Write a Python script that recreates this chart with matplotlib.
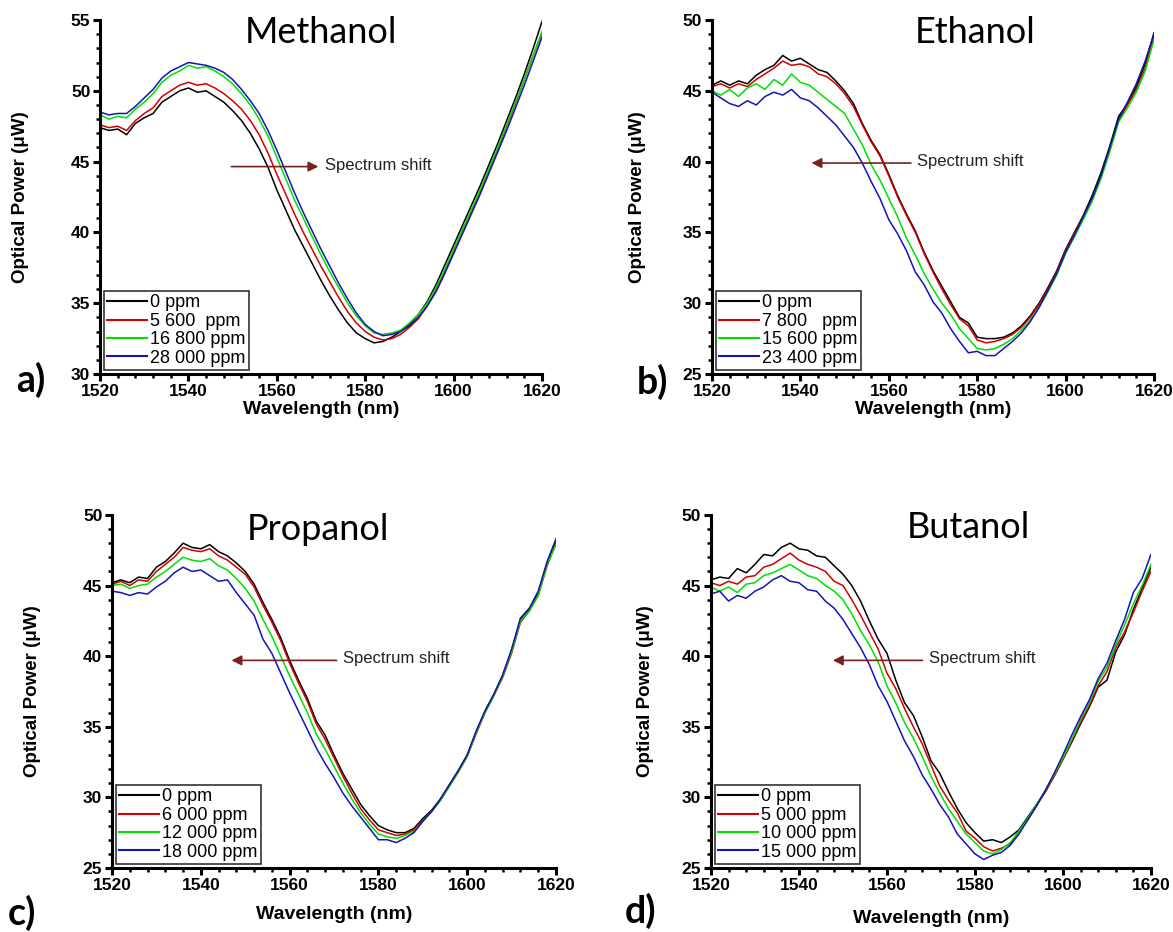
import numpy as np
import matplotlib
matplotlib.use("Agg")
import matplotlib.pyplot as plt
from matplotlib.ticker import MultipleLocator

# wavelength grid shared by all spectra (nm)
wl = np.arange(1520, 1621, 2)

# ---- a) Methanol ----
meoh_labels = ["0 ppm", "5 600  ppm", "16 800 ppm", "28 000 ppm"]
meoh_0 = [47.4, 47.2, 47.3, 46.9, 47.7, 48.1, 48.4, 49.2, 49.6, 50.0, 50.2, 49.9, 50.0, 49.6, 49.2,
          48.6, 47.9, 47.0, 45.9, 44.6, 43.0, 41.6, 40.2, 39.0, 37.8, 36.6, 35.5, 34.5, 33.6, 32.9,
          32.5, 32.2, 32.3, 32.6, 33.0, 33.5, 34.2, 35.1, 36.3, 37.7, 39.1, 40.5, 41.9, 43.3, 44.8,
          46.3, 47.9, 49.5, 51.2, 53.0, 54.9]
meoh_1 = [47.6, 47.4, 47.5, 47.2, 47.9, 48.4, 48.8, 49.6, 50.0, 50.4, 50.6, 50.4, 50.5, 50.2, 49.8,
          49.3, 48.7, 47.9, 46.9, 45.6, 44.1, 42.7, 41.3, 40.0, 38.8, 37.6, 36.5, 35.4, 34.4, 33.6,
          33.0, 32.6, 32.4, 32.5, 32.8, 33.3, 33.9, 34.8, 35.9, 37.2, 38.7, 40.1, 41.5, 42.9, 44.4,
          45.9, 47.5, 49.1, 50.8, 52.5, 54.1]
meoh_2 = [48.3, 48.0, 48.2, 48.1, 48.7, 49.2, 49.8, 50.6, 51.1, 51.4, 51.8, 51.6, 51.7, 51.4, 51.0,
          50.5, 49.8, 49.0, 48.0, 46.8, 45.3, 43.8, 42.3, 41.0, 39.7, 38.4, 37.2, 36.1, 35.0, 34.1,
          33.4, 32.9, 32.8, 32.9, 33.1, 33.6, 34.2, 35.0, 36.1, 37.4, 38.8, 40.2, 41.6, 43.0, 44.5,
          46.0, 47.6, 49.2, 50.8, 52.5, 54.2]
meoh_3 = [48.5, 48.3, 48.4, 48.4, 48.9, 49.5, 50.1, 50.9, 51.4, 51.7, 52.0, 51.9, 51.8, 51.6, 51.3,
          50.8, 50.1, 49.3, 48.4, 47.2, 45.8, 44.3, 42.8, 41.4, 40.1, 38.8, 37.6, 36.4, 35.3, 34.3,
          33.5, 33.0, 32.7, 32.8, 33.0, 33.4, 34.0, 34.8, 35.8, 37.1, 38.5, 39.9, 41.3, 42.7, 44.2,
          45.7, 47.2, 48.8, 50.4, 52.1, 53.8]

# ---- b) Ethanol ----
etoh_labels = ["0 ppm", "7 800   ppm", "15 600 ppm", "23 400 ppm"]
etoh_0 = [45.4, 45.7, 45.4, 45.7, 45.5, 46.1, 46.5, 46.8, 47.5, 47.1, 47.3, 46.9, 46.5, 46.3, 45.7,
          45.0, 44.1, 42.7, 41.5, 40.5, 39.1, 37.6, 36.3, 35.1, 33.6, 32.3, 31.2, 30.1, 29.0, 28.6,
          27.6, 27.5, 27.5, 27.6, 27.9, 28.4, 29.1, 30.0, 31.1, 32.3, 33.8, 35.0, 36.2, 37.6, 39.2,
          41.1, 43.2, 44.1, 45.3, 46.9, 49.1]
etoh_1 = [45.3, 45.5, 45.2, 45.5, 45.3, 45.8, 46.2, 46.6, 47.1, 46.8, 46.9, 46.7, 46.2, 46.0, 45.5,
          44.8, 43.9, 42.6, 41.4, 40.4, 39.0, 37.5, 36.2, 35.0, 33.5, 32.2, 31.0, 29.9, 28.9, 28.4,
          27.4, 27.2, 27.3, 27.5, 27.8, 28.3, 29.0, 29.9, 31.0, 32.2, 33.7, 34.9, 36.1, 37.4, 38.9,
          40.8, 42.9, 44.0, 45.1, 46.6, 48.9]
etoh_2 = [45.0, 44.7, 45.1, 44.6, 45.2, 45.5, 45.1, 45.8, 45.4, 46.2, 45.6, 45.4, 44.9, 44.4, 43.9,
          43.4, 42.3, 41.2, 39.8, 38.7, 37.4, 36.1, 34.6, 33.4, 32.1, 31.0, 30.0, 29.2, 28.2, 27.5,
          26.8, 26.7, 26.8, 27.1, 27.5, 28.1, 28.8, 29.7, 30.8, 32.0, 33.5, 34.7, 35.9, 37.2, 38.8,
          40.7, 42.8, 43.8, 44.9, 46.4, 48.6]
etoh_3 = [44.9, 44.5, 44.1, 43.9, 44.3, 44.0, 44.6, 44.9, 44.7, 45.1, 44.5, 44.3, 43.8, 43.2, 42.6,
          41.8, 41.0, 39.9, 38.6, 37.4, 35.9, 34.9, 33.7, 32.2, 31.3, 30.1, 29.3, 28.2, 27.3, 26.5,
          26.6, 26.3, 26.3, 26.8, 27.3, 27.9, 28.7, 29.7, 30.9, 32.1, 33.6, 34.8, 36.1, 37.4, 39.0,
          41.0, 43.0, 44.2, 45.5, 47.1, 49.0]

# ---- c) Propanol ----
prop_labels = ["0 ppm", "6 000 ppm", "12 000 ppm", "18 000 ppm"]
prop_0 = [45.2, 45.4, 45.2, 45.6, 45.5, 46.3, 46.7, 47.3, 48.0, 47.7, 47.6, 47.9, 47.4, 47.1, 46.6,
          46.0, 45.1, 43.8, 42.6, 41.3, 39.7, 38.3, 37.0, 35.4, 34.4, 33.0, 31.7, 30.6, 29.5, 28.7,
          28.0, 27.7, 27.5, 27.5, 27.8, 28.5, 29.1, 29.9, 30.9, 31.9, 33.0, 34.6, 36.1, 37.3, 38.6,
          40.4, 42.6, 43.3, 44.5, 46.6, 48.2]
prop_1 = [45.1, 45.3, 45.0, 45.4, 45.3, 46.0, 46.5, 47.0, 47.7, 47.5, 47.4, 47.6, 47.1, 46.8, 46.3,
          45.8, 44.9, 43.6, 42.4, 41.1, 39.5, 38.1, 36.8, 35.2, 34.1, 32.8, 31.5, 30.3, 29.2, 28.4,
          27.7, 27.5, 27.3, 27.4, 27.7, 28.4, 29.0, 29.8, 30.8, 31.8, 32.9, 34.5, 36.0, 37.2, 38.5,
          40.2, 42.4, 43.2, 44.3, 46.4, 48.0]
prop_2 = [45.0, 45.1, 44.8, 45.0, 45.1, 45.6, 46.0, 46.5, 47.0, 46.8, 46.7, 46.9, 46.4, 46.1, 45.5,
          44.8, 43.9, 42.6, 41.4, 40.0, 38.6, 37.3, 36.0, 34.5, 33.4, 32.2, 31.0, 29.9, 28.9, 28.1,
          27.4, 27.2, 27.1, 27.3, 27.6, 28.3, 29.0, 29.8, 30.8, 31.8, 32.9, 34.6, 36.0, 37.2, 38.6,
          40.3, 42.5, 43.2, 44.3, 46.5, 47.9]
prop_3 = [44.6, 44.5, 44.3, 44.5, 44.4, 44.9, 45.3, 45.9, 46.3, 46.0, 46.1, 45.7, 45.3, 45.4, 44.5,
          43.7, 42.9, 41.2, 40.2, 38.8, 37.4, 36.1, 34.8, 33.5, 32.4, 31.4, 30.3, 29.4, 28.6, 27.8,
          27.0, 27.0, 26.8, 27.1, 27.5, 28.3, 29.0, 29.9, 30.9, 31.9, 33.0, 34.7, 36.1, 37.3, 38.7,
          40.5, 42.7, 43.4, 44.6, 46.7, 48.3]

# ---- d) Butanol ----
but_labels = ["0 ppm", "5 000 ppm", "10 000 ppm", "15 000 ppm"]
but_0 = [45.4, 45.6, 45.5, 46.2, 45.9, 46.5, 47.2, 47.1, 47.7, 48.0, 47.6, 47.5, 47.1, 47.0, 46.4,
         45.8, 45.0, 43.9, 42.5, 41.2, 40.2, 38.3, 36.7, 35.8, 34.3, 32.6, 31.7, 30.4, 29.2, 28.2,
         27.5, 26.9, 27.0, 26.8, 27.2, 27.7, 28.6, 29.5, 30.4, 31.5, 32.7, 33.9, 35.2, 36.4, 37.8,
         38.3, 40.3, 41.5, 43.3, 44.8, 46.3]
but_1 = [45.2, 45.0, 45.3, 45.1, 45.6, 45.7, 46.3, 46.5, 46.9, 47.3, 46.8, 46.5, 46.3, 46.0, 45.3,
         45.0, 44.0, 42.9, 41.7, 40.5, 38.8, 37.7, 36.3, 35.0, 33.8, 32.3, 30.8, 29.8, 28.9, 27.6,
         27.1, 26.5, 26.2, 26.4, 26.7, 27.6, 28.4, 29.4, 30.4, 31.5, 32.7, 34.0, 35.3, 36.5, 37.9,
         38.9, 40.6, 41.7, 43.1, 44.6, 46.0]
but_2 = [44.9, 44.6, 44.9, 44.5, 45.1, 45.2, 45.7, 45.9, 46.2, 46.5, 46.1, 45.7, 45.5, 45.0, 44.6,
         44.0, 43.0, 41.8, 40.8, 39.6, 37.9, 36.7, 35.3, 34.2, 32.9, 31.5, 30.3, 29.2, 28.3, 27.4,
         26.8, 26.2, 26.0, 26.3, 26.8, 27.6, 28.5, 29.5, 30.5, 31.6, 32.8, 34.1, 35.5, 36.7, 38.2,
         39.2, 40.8, 42.2, 43.7, 45.0, 46.5]
but_3 = [44.4, 44.6, 43.9, 44.3, 44.1, 44.6, 44.9, 45.4, 45.7, 45.3, 45.2, 44.7, 44.6, 43.9, 43.4,
         42.6, 41.6, 40.6, 39.4, 37.9, 36.8, 35.4, 34.0, 32.9, 31.6, 30.6, 29.5, 28.6, 27.4, 26.7,
         26.0, 25.6, 25.9, 26.1, 26.6, 27.4, 28.4, 29.4, 30.5, 31.7, 33.0, 34.4, 35.7, 36.9, 38.4,
         39.5, 41.1, 42.6, 44.5, 45.5, 47.2]

colors = ["#000000", "#d00000", "#00e000", "#1414b4"]

panels = [
    dict(name="Methanol", tag="a)", series=[meoh_0, meoh_1, meoh_2, meoh_3], labels=meoh_labels,
         ylim=(30, 55), rect=[0.0853, 0.5987, 0.3768, 0.3798], title_xy=(0.50, 0.965),
         arrow=((1549.7, 44.65), (1569.4, 44.65)), ylab_x=-0.16, xlab_y=-0.076,
         tag_xy=(0.026, 0.592)),
    dict(name="Ethanol", tag="b)", series=[etoh_0, etoh_1, etoh_2, etoh_3], labels=etoh_labels,
         ylim=(25, 50), rect=[0.6070, 0.5987, 0.3768, 0.3798], title_xy=(0.595, 0.965),
         arrow=((1565.0, 39.9), (1542.5, 39.9)), ylab_x=-0.15, xlab_y=-0.076,
         tag_xy=(0.556, 0.590)),
    dict(name="Propanol", tag="c)", series=[prop_0, prop_1, prop_2, prop_3], labels=prop_labels,
         ylim=(25, 50), rect=[0.0955, 0.0687, 0.3785, 0.3788], title_xy=(0.464, 0.958),
         arrow=((1570.6, 39.7), (1546.9, 39.7)), ylab_x=-0.16, xlab_y=-0.108,
         tag_xy=(0.019, 0.020)),
    dict(name="Butanol", tag="d)", series=[but_0, but_1, but_2, but_3], labels=but_labels,
         ylim=(25, 50), rect=[0.6061, 0.0687, 0.3751, 0.3788], title_xy=(0.584, 0.963),
         arrow=((1568.1, 39.7), (1547.7, 39.7)), ylab_x=-0.13, xlab_y=-0.118,
         tag_xy=(0.546, 0.023)),
]

plt.rcParams["font.family"] = ["Liberation Sans", "DejaVu Sans"]

fig = plt.figure(figsize=(11.73, 9.32), dpi=100)

for p in panels:
    ax = fig.add_axes(p["rect"])
    for ys, c, lab in zip(p["series"], colors, p["labels"]):
        ax.plot(wl, ys, color=c, lw=1.1, label=lab)

    ax.set_xlim(1520, 1620)
    ax.set_ylim(*p["ylim"])
    ax.spines["top"].set_visible(False)
    ax.spines["right"].set_visible(False)
    for s in ("left", "bottom"):
        ax.spines[s].set_linewidth(2.2)
    ax.xaxis.set_major_locator(MultipleLocator(20))
    ax.xaxis.set_minor_locator(MultipleLocator(4))
    ax.yaxis.set_major_locator(MultipleLocator(5))
    ax.yaxis.set_minor_locator(MultipleLocator(1))
    ax.tick_params(which="major", direction="out", length=5, width=2.2, labelsize=12.5, pad=2)
    ax.tick_params(which="minor", direction="out", length=3, width=1.8)
    for t in ax.get_xticklabels() + ax.get_yticklabels():
        t.set_fontweight("bold")

    ax.set_xlabel("Wavelength (nm)", fontsize=14, fontweight="bold")
    ax.set_ylabel("Optical Power (\u03bcW)", fontsize=13.5, fontweight="bold")
    ax.xaxis.set_label_coords(0.5, p["xlab_y"])
    ax.yaxis.set_label_coords(p["ylab_x"], 0.5)

    ax.text(p["title_xy"][0], p["title_xy"][1], p["name"], transform=ax.transAxes,
            fontsize=26, family="Lato", ha="center", va="center")

    tail, head = p["arrow"]
    ax.annotate("", xy=head, xytext=tail,
                arrowprops=dict(arrowstyle="-|>", color="#7a2020", lw=1.2,
                                mutation_scale=15, shrinkA=0, shrinkB=0))
    text_x = max(tail[0], head[0]) + 1.4
    ax.text(text_x, tail[1] + 0.1, "Spectrum shift", fontsize=12, ha="left", va="center",
            color="#222222")

    leg = ax.legend(loc="lower left", fontsize=13, handlelength=2.2, handletextpad=0.15,
                    labelspacing=0.08, borderpad=0.2, borderaxespad=0.2,
                    fancybox=False, framealpha=1)
    leg.get_frame().set_edgecolor("#333333")
    leg.get_frame().set_linewidth(1.2)
    for h in leg.get_lines():
        h.set_linewidth(1.5)

    fig.text(p["tag_xy"][0], p["tag_xy"][1], p["tag"], fontsize=27, family="Lato",
             fontweight="bold", ha="center", va="center")

fig.savefig("out.png", dpi=100)
